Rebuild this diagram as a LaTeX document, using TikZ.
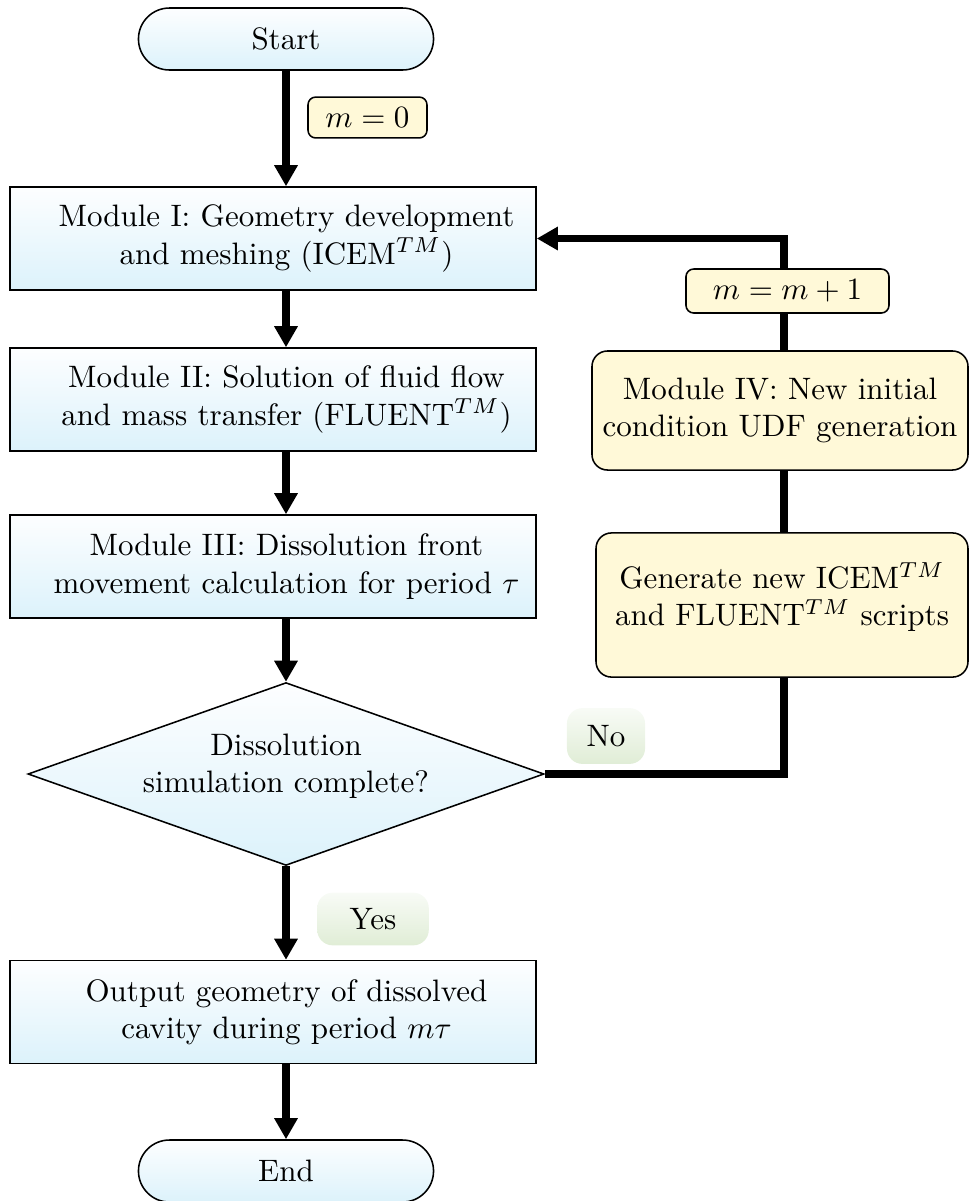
\documentclass[tikz,border=0pt]{standalone}
\usetikzlibrary{arrows.meta,shapes.misc,shapes.geometric}

\definecolor{boxtop}{RGB}{253,254,255}
\definecolor{boxbot}{RGB}{220,242,251}
\definecolor{noteyellow}{RGB}{255,249,216}
\definecolor{tagtop}{RGB}{248,251,246}
\definecolor{tagbot}{RGB}{224,237,214}

\pgfdeclarelayer{bg}
\pgfsetlayers{bg,main}

\tikzset{
  modbox/.style={draw=black, line width=0.5pt, top color=boxtop, bottom color=boxbot,
    minimum width=169.7pt, minimum height=33.2pt, inner sep=0pt},
  term/.style={draw=black, line width=0.5pt, rounded rectangle, top color=boxtop,
    bottom color=boxbot, minimum width=95.2pt, minimum height=20pt, inner sep=0pt},
  decision/.style={draw=black, line width=0.5pt, diamond, aspect=2.8, top color=boxtop,
    bottom color=boxbot, minimum width=166.5pt, minimum height=59pt, inner sep=0pt,
    align=center},
  note/.style={draw=black, line width=0.5pt, fill=noteyellow, rounded corners=2.5pt,
    inner sep=0pt},
  bignote/.style={note, rounded corners=5pt, align=center},
  tag/.style={rounded corners=5pt, top color=tagtop, bottom color=tagbot, inner sep=0pt},
  flow/.style={line width=2.3pt, -{Triangle[length=6.8pt,width=7.2pt]}},
  link/.style={line width=2.3pt},
}

\newcommand{\modtext}[2]{\hspace*{8.7pt}\parbox{161pt}{\centering #1\\ #2}}

\begin{document}
\begin{tikzpicture}[x=0.3226pt, y=-0.3226pt]
  \useasboundingbox (0,0) rectangle (969,1201);
  \clip (0,0) rectangle (969,1201);

  % main column
  \node[term] (start) at (286,39) {Start};
  \node[note, minimum width=38.4pt, minimum height=13.2pt] (m0) at (367.5,117.5) {$m=0$};
  \node[modbox] (m1) at (273,238.5)
    {\modtext{Module I: Geometry development}{and meshing (ICEM$^{TM}$)}};
  \node[modbox] (m2) at (273,399.5)
    {\modtext{Module II: Solution of fluid flow}{and mass transfer (FLUENT$^{TM}$)}};
  \node[modbox] (m3) at (273,566.5)
    {\modtext{Module III: Dissolution front}{movement calculation for period $\tau$}};
  \node[decision] (dec) at (286,774) {};
  \node (dectext) at (286,766) [align=center] {Dissolution\\simulation complete?};
  \node[tag, minimum width=36pt, minimum height=17pt] (yes) at (373,919) {Yes};
  \node[modbox] (out) at (273,1012)
    {\modtext{Output geometry of dissolved}{cavity during period $m\tau$}};
  \node[term] (end) at (286,1171) {End};

  % loop column
  \coordinate (rt) at (784,774);
  \node[note, minimum width=65.5pt, minimum height=14.2pt] (inc) at (787.5,291) {$m=m+1$};
  \node[bignote, minimum width=121.3pt, minimum height=38.4pt] (m4) at (780,410.5)
    {Module IV: New initial\\condition UDF generation};
  \node[bignote, minimum width=120pt, minimum height=46.5pt] (gen) at (782,605) {};
  \node (gentext) at (782,597) [align=center]
    {Generate new ICEM$^{TM}$\\and FLUENT$^{TM}$ scripts};
  \node[tag, minimum width=25.2pt, minimum height=18pt] (no) at (606,736) {No};

  % connectors
  \begin{pgfonlayer}{bg}
    \draw[flow] (start.south) -- (start.south |- m1.north);
    \draw[flow] (m1.south -| start) -- (m2.north -| start);
    \draw[flow] (m2.south -| start) -- (m3.north -| start);
    \draw[flow] (m3.south -| start) -- (dec.north);
    \draw[flow] (dec.south) -- (out.north -| dec.south);
    \draw[flow] (out.south -| start) -- (end.north);
    \draw[flow] (dec.east) -- (rt) -- (rt |- m1.east) -- (m1.east);
  \end{pgfonlayer}
\end{tikzpicture}
\end{document}
